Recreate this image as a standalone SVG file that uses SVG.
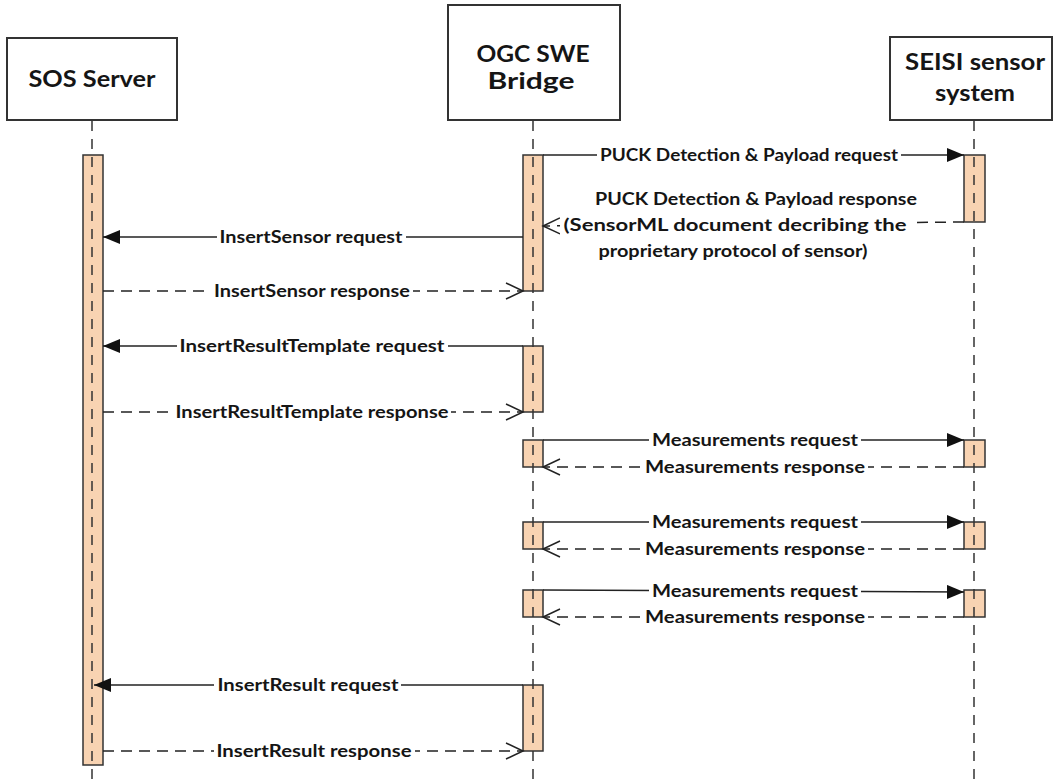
<svg xmlns="http://www.w3.org/2000/svg" width="1053" height="782" viewBox="0 0 1053 782">
<style>
.box{fill:#fff;stroke:#333;stroke-width:2}
.title{font-family:Lato,"Liberation Sans",sans-serif;font-weight:bold;font-size:23px;fill:#151515;text-anchor:middle}
.lbl{font-family:Lato,"Liberation Sans",sans-serif;font-weight:bold;font-size:16.5px;fill:#151515;text-anchor:middle}
.bar{fill:#f8d3b2;stroke:#333;stroke-width:1.5}
.life{stroke:#333;stroke-width:1.5;stroke-dasharray:10 8;fill:none}
.req{stroke:#222;stroke-width:1.5;fill:none;marker-end:url(#filled)}
.resp{stroke:#222;stroke-width:1.5;fill:none;stroke-dasharray:11 7;marker-end:url(#open)}
.bg{fill:#fff}
</style>
<defs>
<marker id="filled" markerUnits="userSpaceOnUse" markerWidth="18" markerHeight="14" refX="17" refY="7" orient="auto">
<path d="M0,0 L17,7 L0,14 z" fill="#111"/>
</marker>
<marker id="open" markerUnits="userSpaceOnUse" markerWidth="20" markerHeight="20" refX="18" refY="9" orient="auto">
<path d="M1,1 L18,9 L1,17" fill="none" stroke="#222" stroke-width="1.5"/>
</marker>
</defs>
<rect width="1053" height="782" fill="#fff"/>
<g id="node-sos">
<rect class="box" x="7" y="38" width="170" height="82"/>
<text class="title" x="92" y="87" textLength="127" lengthAdjust="spacingAndGlyphs">SOS Server</text>
<rect class="bar" x="83" y="155" width="20" height="610"/>
<line class="life" x1="92" y1="121" x2="92" y2="782"/>
</g>
<g id="node-bridge">
<rect class="box" x="448" y="5" width="172" height="115"/>
<text class="title" x="533" y="62" textLength="113" lengthAdjust="spacingAndGlyphs">OGC SWE</text>
<text class="title" x="531" y="89" textLength="87" lengthAdjust="spacingAndGlyphs">Bridge</text>
<rect class="bar" x="523" y="155" width="20" height="136"/>
<rect class="bar" x="523" y="346" width="20" height="66"/>
<rect class="bar" x="523" y="440" width="20" height="27"/>
<rect class="bar" x="523" y="522" width="20" height="27"/>
<rect class="bar" x="523" y="590" width="20" height="27"/>
<rect class="bar" x="523" y="685" width="20" height="66"/>
<line class="life" x1="533" y1="121" x2="533" y2="782"/>
</g>
<g id="node-seisi">
<rect class="box" x="890" y="37" width="162" height="83"/>
<text class="title" x="975" y="70" textLength="140" lengthAdjust="spacingAndGlyphs">SEISI sensor</text>
<text class="title" x="975" y="101" textLength="80" lengthAdjust="spacingAndGlyphs">system</text>
<rect class="bar" x="964" y="155" width="21" height="67"/>
<rect class="bar" x="964" y="440" width="21" height="27"/>
<rect class="bar" x="964" y="522" width="21" height="27"/>
<rect class="bar" x="964" y="590" width="21" height="27"/>
<line class="life" x1="974" y1="121" x2="974" y2="782"/>
</g>
<g id="connectors">
<path class="req" d="M543,155 H964"/>
<rect class="bg" x="597" y="145" width="304" height="20"/>
<text class="lbl" x="749" y="161" textLength="298" lengthAdjust="spacingAndGlyphs">PUCK Detection &amp; Payload request</text>

<path class="resp" d="M964,222 L543,226"/>
<rect class="bg" x="560" y="214" width="351" height="22"/>
<text class="lbl" x="756" y="205" textLength="322" lengthAdjust="spacingAndGlyphs">PUCK Detection &amp; Payload response</text>
<text class="lbl" x="735" y="231" textLength="343" lengthAdjust="spacingAndGlyphs">(SensorML document decribing the</text>
<text class="lbl" x="733" y="257" textLength="269" lengthAdjust="spacingAndGlyphs">proprietary protocol of sensor)</text>

<path class="req" d="M523,237 H103"/>
<rect class="bg" x="217" y="227" width="189" height="20"/>
<text class="lbl" x="311" y="243" textLength="183" lengthAdjust="spacingAndGlyphs">InsertSensor request</text>

<path class="resp" d="M103,291 H523"/>
<rect class="bg" x="211" y="281" width="202" height="20"/>
<text class="lbl" x="312" y="297" textLength="196" lengthAdjust="spacingAndGlyphs">InsertSensor response</text>

<path class="req" d="M523,346 H103"/>
<rect class="bg" x="177" y="336" width="271" height="20"/>
<text class="lbl" x="312" y="352" textLength="265" lengthAdjust="spacingAndGlyphs">InsertResultTemplate request</text>

<path class="resp" d="M103,412 H523"/>
<rect class="bg" x="172" y="402" width="279" height="20"/>
<text class="lbl" x="312" y="418" textLength="273" lengthAdjust="spacingAndGlyphs">InsertResultTemplate response</text>

<path class="req" d="M543,440 H964"/>
<rect class="bg" x="649" y="430" width="212" height="20"/>
<text class="lbl" x="755" y="446" textLength="206" lengthAdjust="spacingAndGlyphs">Measurements request</text>
<path class="resp" d="M964,467 H543"/>
<rect class="bg" x="642" y="457" width="226" height="20"/>
<text class="lbl" x="755" y="473" textLength="220" lengthAdjust="spacingAndGlyphs">Measurements response</text>

<path class="req" d="M543,522 H964"/>
<rect class="bg" x="649" y="512" width="212" height="20"/>
<text class="lbl" x="755" y="528" textLength="206" lengthAdjust="spacingAndGlyphs">Measurements request</text>
<path class="resp" d="M964,549 H543"/>
<rect class="bg" x="642" y="539" width="226" height="20"/>
<text class="lbl" x="755" y="555" textLength="220" lengthAdjust="spacingAndGlyphs">Measurements response</text>

<path class="req" d="M543,590 L964,592"/>
<rect class="bg" x="649" y="581" width="212" height="20"/>
<text class="lbl" x="755" y="597" textLength="206" lengthAdjust="spacingAndGlyphs">Measurements request</text>
<path class="resp" d="M964,617 H543"/>
<rect class="bg" x="642" y="607" width="226" height="20"/>
<text class="lbl" x="755" y="623" textLength="220" lengthAdjust="spacingAndGlyphs">Measurements response</text>

<path class="req" d="M523,685 H94"/>
<rect class="bg" x="214" y="675" width="187" height="20"/>
<text class="lbl" x="308" y="691" textLength="181" lengthAdjust="spacingAndGlyphs">InsertResult request</text>

<path class="resp" d="M103,751 H523"/>
<rect class="bg" x="214" y="741" width="201" height="20"/>
<text class="lbl" x="314" y="757" textLength="195" lengthAdjust="spacingAndGlyphs">InsertResult response</text>
</g>
</svg>
